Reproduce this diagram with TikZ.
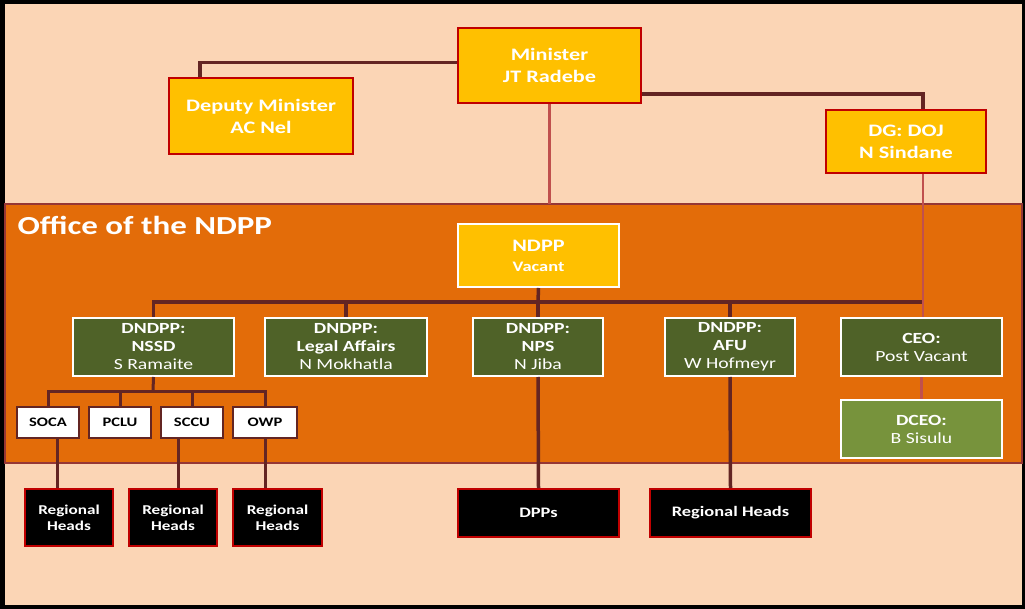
\documentclass[tikz,border=0pt]{standalone}
\usepackage{fontspec}
\setmainfont{Carlito}[FakeStretch=1.27]
\usepackage{xcolor}
\usepackage{tikz}
\usetikzlibrary{positioning,calc}

\definecolor{peach}{HTML}{FBD5B5}
\definecolor{orng}{HTML}{E36C09}
\definecolor{bandedge}{HTML}{953735}
\definecolor{gold}{HTML}{FFC000}
\definecolor{boxred}{HTML}{C00000}
\definecolor{dkgreen}{HTML}{4F6228}
\definecolor{ltgreen}{HTML}{77933C}
\definecolor{dkline}{HTML}{632523}
\definecolor{ltline}{HTML}{C0504D}

\begin{document}
\begin{tikzpicture}[x=1pt,y=-1pt,
  post/.style={draw=boxred, line width=2.5pt, fill=gold, text=white, align=center,
    inner sep=0pt, font=\bfseries\fontsize{17.5}{22}\selectfont},
  unit/.style={draw=white, line width=2pt, fill=dkgreen, text=white, align=center,
    inner sep=0pt, minimum height=58, font=\fontsize{15.5}{18}\selectfont},
  sub/.style={draw=dkline, line width=2.5pt, fill=white, align=center, inner sep=0pt,
    minimum width=62, minimum height=31, font=\bfseries\fontsize{13}{15}\selectfont},
  head/.style={draw=boxred, line width=2pt, fill=black, text=white, align=center,
    inner sep=0pt, font=\bfseries\fontsize{13.5}{16}\selectfont},
  link/.style={draw=dkline, line width=3.5pt},
  thin/.style={draw=ltline, line width=2.2pt}]
% page and office band
\fill[black] (0,0) rectangle (1025,609);
\fill[peach] (5,4) rectangle (1022,605);
\draw[fill=orng, draw=bandedge, line width=2pt] (5,204) rectangle (1022,463);
\node[anchor=west, text=white, font=\bfseries\fontsize{26}{30}\selectfont] (title) at (14,225) {Office of the NDPP};

% ministry
\node[post, minimum width=183, minimum height=75] (min) at (549.5,65.5) {Minister\\JT Radebe};
\node[post, minimum width=184, minimum height=76] (dep) at (261,116) {Deputy Minister\\AC Nel};
\node[post, minimum width=160, minimum height=63] (dg) at (906,141.5) {DG: DOJ\\N Sindane};
\draw[link] ([yshift=3]min.west) -| ([xshift=32]dep.north west);
\draw[link] ([yshift=10]min.south east) -| ([xshift=17]dg.north);

% office of the NDPP
\node[post, draw=white, line width=2pt, minimum width=161, minimum height=63,
  font=\bfseries\fontsize{17.5}{20}\selectfont] (ndpp) at (538.5,255.5) {NDPP\\{\fontsize{14.5}{18}\selectfont Vacant}};
\coordinate (bus) at (538,302);
\node[unit, minimum width=161] (nssd) at (153.5,347) {\textbf{DNDPP:}\\\textbf{NSSD}\\S Ramaite};
\node[unit, minimum width=162] (legal) at (346,347) {\textbf{DNDPP:}\\\textbf{Legal Affairs}\\N Mokhatla};
\node[unit, minimum width=130] (nps) at (538,347) {\textbf{DNDPP:}\\\textbf{NPS}\\N Jiba};
\node[unit, minimum width=130] (afu) at (730,347) {\textbf{DNDPP:}\\\textbf{AFU}\\W Hofmeyr};
\node[unit, minimum width=161] (ceo) at (921.5,347) {\textbf{CEO:}\\Post Vacant};
\node[unit, fill=ltgreen, minimum width=161] (dceo) at (921.5,429) {\textbf{DCEO:}\\B Sisulu};

\draw[thin] (min.south) -- (min.south |- 0,204);
\draw[thin] ([xshift=17]dg.south) -- ([xshift=17]dg.south |- ceo.north);
\draw[thin] (ceo.south) -- (dceo.north);
\draw[link] (ndpp.south) -- (bus);
\draw[link] (nssd.north) |- (ceo.north |- bus);
\foreach \u in {legal,nps,afu} \draw[link] (\u.north) -- (\u.north |- bus);

% NSSD units
\node[sub] (soca) at (48,422.5) {SOCA};
\node[sub] (pclu) at (120,422.5) {PCLU};
\node[sub] (sccu) at (192,422.5) {SCCU};
\node[sub, minimum width=64] (owp) at (265,422.5) {OWP};
\coordinate (sbus) at (153,391);
\draw[link, line width=3pt] (nssd.south) -- (sbus);
\draw[link, line width=3pt] (soca.north) |- (sbus) -| (owp.north);
\foreach \u in {pclu,sccu} \draw[link, line width=3pt] (\u.north) -- (\u.north |- sbus);

% regional heads
\node[head, minimum width=88, minimum height=57] (rh1) at (69,517.5) {Regional\\Heads};
\node[head, minimum width=88, minimum height=57] (rh2) at (173,517.5) {Regional\\Heads};
\node[head, minimum width=89, minimum height=57] (rh3) at (277.5,517.5) {Regional\\Heads};
\node[head, minimum width=161, minimum height=48, font=\bfseries\fontsize{14.5}{18}\selectfont] (dpps) at (538.5,513) {DPPs};
\node[head, minimum width=161, minimum height=48, font=\bfseries\fontsize{14.5}{18}\selectfont] (rh4) at (730.5,513) {Regional Heads};
\draw[link, line width=3pt] ([xshift=9]soca.south) -- ([xshift=9]soca.south |- rh1.north);
\draw[link, line width=3pt] ([xshift=-14]sccu.south) -- ([xshift=-14]sccu.south |- rh2.north);
\draw[link, line width=3pt] (owp.south) -- (owp.south |- rh3.north);
\draw[link] (nps.south) -- (dpps.north);
\draw[link] (afu.south) -- (rh4.north);
\end{tikzpicture}
\end{document}
